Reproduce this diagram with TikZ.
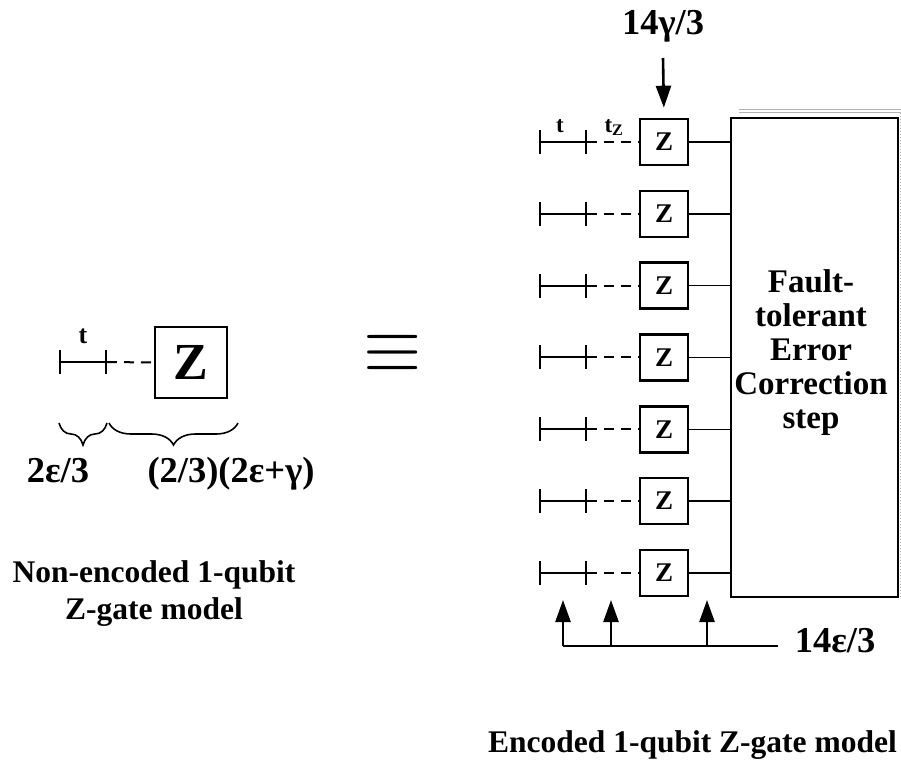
\documentclass[tikz,border=0pt]{standalone}
\usepackage{fontspec}
\setmainfont{Liberation Serif}
\usetikzlibrary{arrows.meta,positioning,calc,decorations.pathreplacing}

\begin{document}
\begin{tikzpicture}[
  x=1pt, y=-1pt,
  font=\bfseries,
  gate/.style={draw, line width=2.6pt, minimum width=48pt, minimum height=46pt, inner sep=0pt, font=\bfseries\fontsize{27}{27}\selectfont},
  bigbox/.style={draw, line width=2.6pt, minimum width=167pt, minimum height=479pt, inner sep=0pt},
  wire/.style={line width=2.6pt},
  lead/.style={line width=2pt, dash pattern=on 10pt off 7pt},
  link/.style={line width=1.4pt},
  flow/.style={-{Triangle[length=22pt,width=15pt]}, line width=2.6pt},
  tick/.style={{Bar[width=24pt]}-{Bar[width=24pt]}, line width=2pt},
  lbl/.style={font=\bfseries\fontsize{36.5}{36.5}\selectfont, inner sep=0pt},
  captext/.style={font=\bfseries\fontsize{31.5}{37}\selectfont, align=center, inner sep=0pt},
  brc/.style={decorate, decoration={brace, amplitude=22pt, mirror}, line width=1.6pt},
  shade/.style={gray!60, line width=1pt}
]
\useasboundingbox (0,0) rectangle (901,760);

% non-encoded gate
\coordinate (la) at (59,362);
\coordinate (lb) at (107,362);
\node[gate, minimum width=72pt, minimum height=71pt, font=\bfseries\fontsize{52}{52}\selectfont] (zl) at (191,362.5) {Z};
\draw[tick] (la) -- (lb);
\draw[lead] (lb) -- (zl.west);
\node[anchor=base, inner sep=0pt, font=\bfseries\fontsize{26}{26}\selectfont] (tl) at (83,343) {t};

\coordinate (br1a) at (59,423);
\coordinate (br1b) at (107,423);
\coordinate (br2a) at (109,423);
\coordinate (br2b) at (238,423);
\draw[brc] (br1a) -- (br1b);
\draw[brc] (br2a) -- (br2b);
\node[lbl, anchor=base] (eps-wait) at (58,482) {2ε/3};
\node[lbl, anchor=base] (eps-gate) at (231,482) {(2/3)(2ε+γ)};
\node[captext] (cap-left) at (154,593.5) {Non-encoded 1-qubit\\Z-gate model};

\node[inner sep=0pt] (eqv) at (393,354) {\scalebox{7.5}[8]{$\equiv$}};

% encoded gate
\node[bigbox] (fte) at (814.5,357.5) {};
\node[font=\bfseries\fontsize{33}{34}\selectfont, align=center, inner sep=0pt] (fte-text) at (811,352.5) {Fault-\\tolerant\\Error\\Correction\\step};
\coordinate (sh1a) at (739,109);
\coordinate (sh1b) at (901,109);
\coordinate (sh2a) at (739,112.5);
\coordinate (sh2b) at (901,112.5);
\coordinate (sh3a) at (900,113);
\coordinate (sh3b) at (900,599);
\draw[shade] (sh1a) -- (sh1b);
\draw[shade] (sh2a) -- (sh2b);
\draw[shade, dotted] (sh3a) -- (sh3b);

\foreach \i in {1,...,7}{
  \pgfmathsetmacro\ry{142+71.8*(\i-1)}
  \coordinate (a\i) at (539,\ry);
  \coordinate (b\i) at (587,\ry);
  \node[gate] (z\i) at (664,\ry) {Z};
  \draw[tick] (a\i) -- (b\i);
  \draw[lead] (b\i) -- (z\i.west);
  \draw[link] (z\i.east) -- (z\i.east -| fte.west);
}
\node[anchor=base, inner sep=0pt, font=\bfseries\fontsize{23}{23}\selectfont] (t1) at (560,132) {t};
\node[anchor=base, inner sep=0pt, font=\bfseries\fontsize{23}{23}\selectfont] (tz1) at (614,132) {t\textsubscript{Z}};

\node[lbl, anchor=base] (gam) at (663,35) {14γ/3};
\coordinate (gs) at (663,58);
\draw[flow, shorten >=10pt] (gs) -- (z1.north);

\node[lbl, anchor=base] (eps) at (835,652) {14ε/3};
\coordinate (ke) at (778,646);
\coordinate (k1) at (563,646);
\coordinate (k2) at (611,646);
\coordinate (k3) at (707,646);
\draw[wire] (k1) -- (ke);
\foreach \k in {1,2,3}{
  \coordinate (u\k) at ($(k\k)+(0,-46)$);
  \draw[flow] (k\k) -- (u\k);
}

\node[captext, anchor=base east] (cap-right) at (897,752) {Encoded 1-qubit Z-gate model};
\end{tikzpicture}
\end{document}
